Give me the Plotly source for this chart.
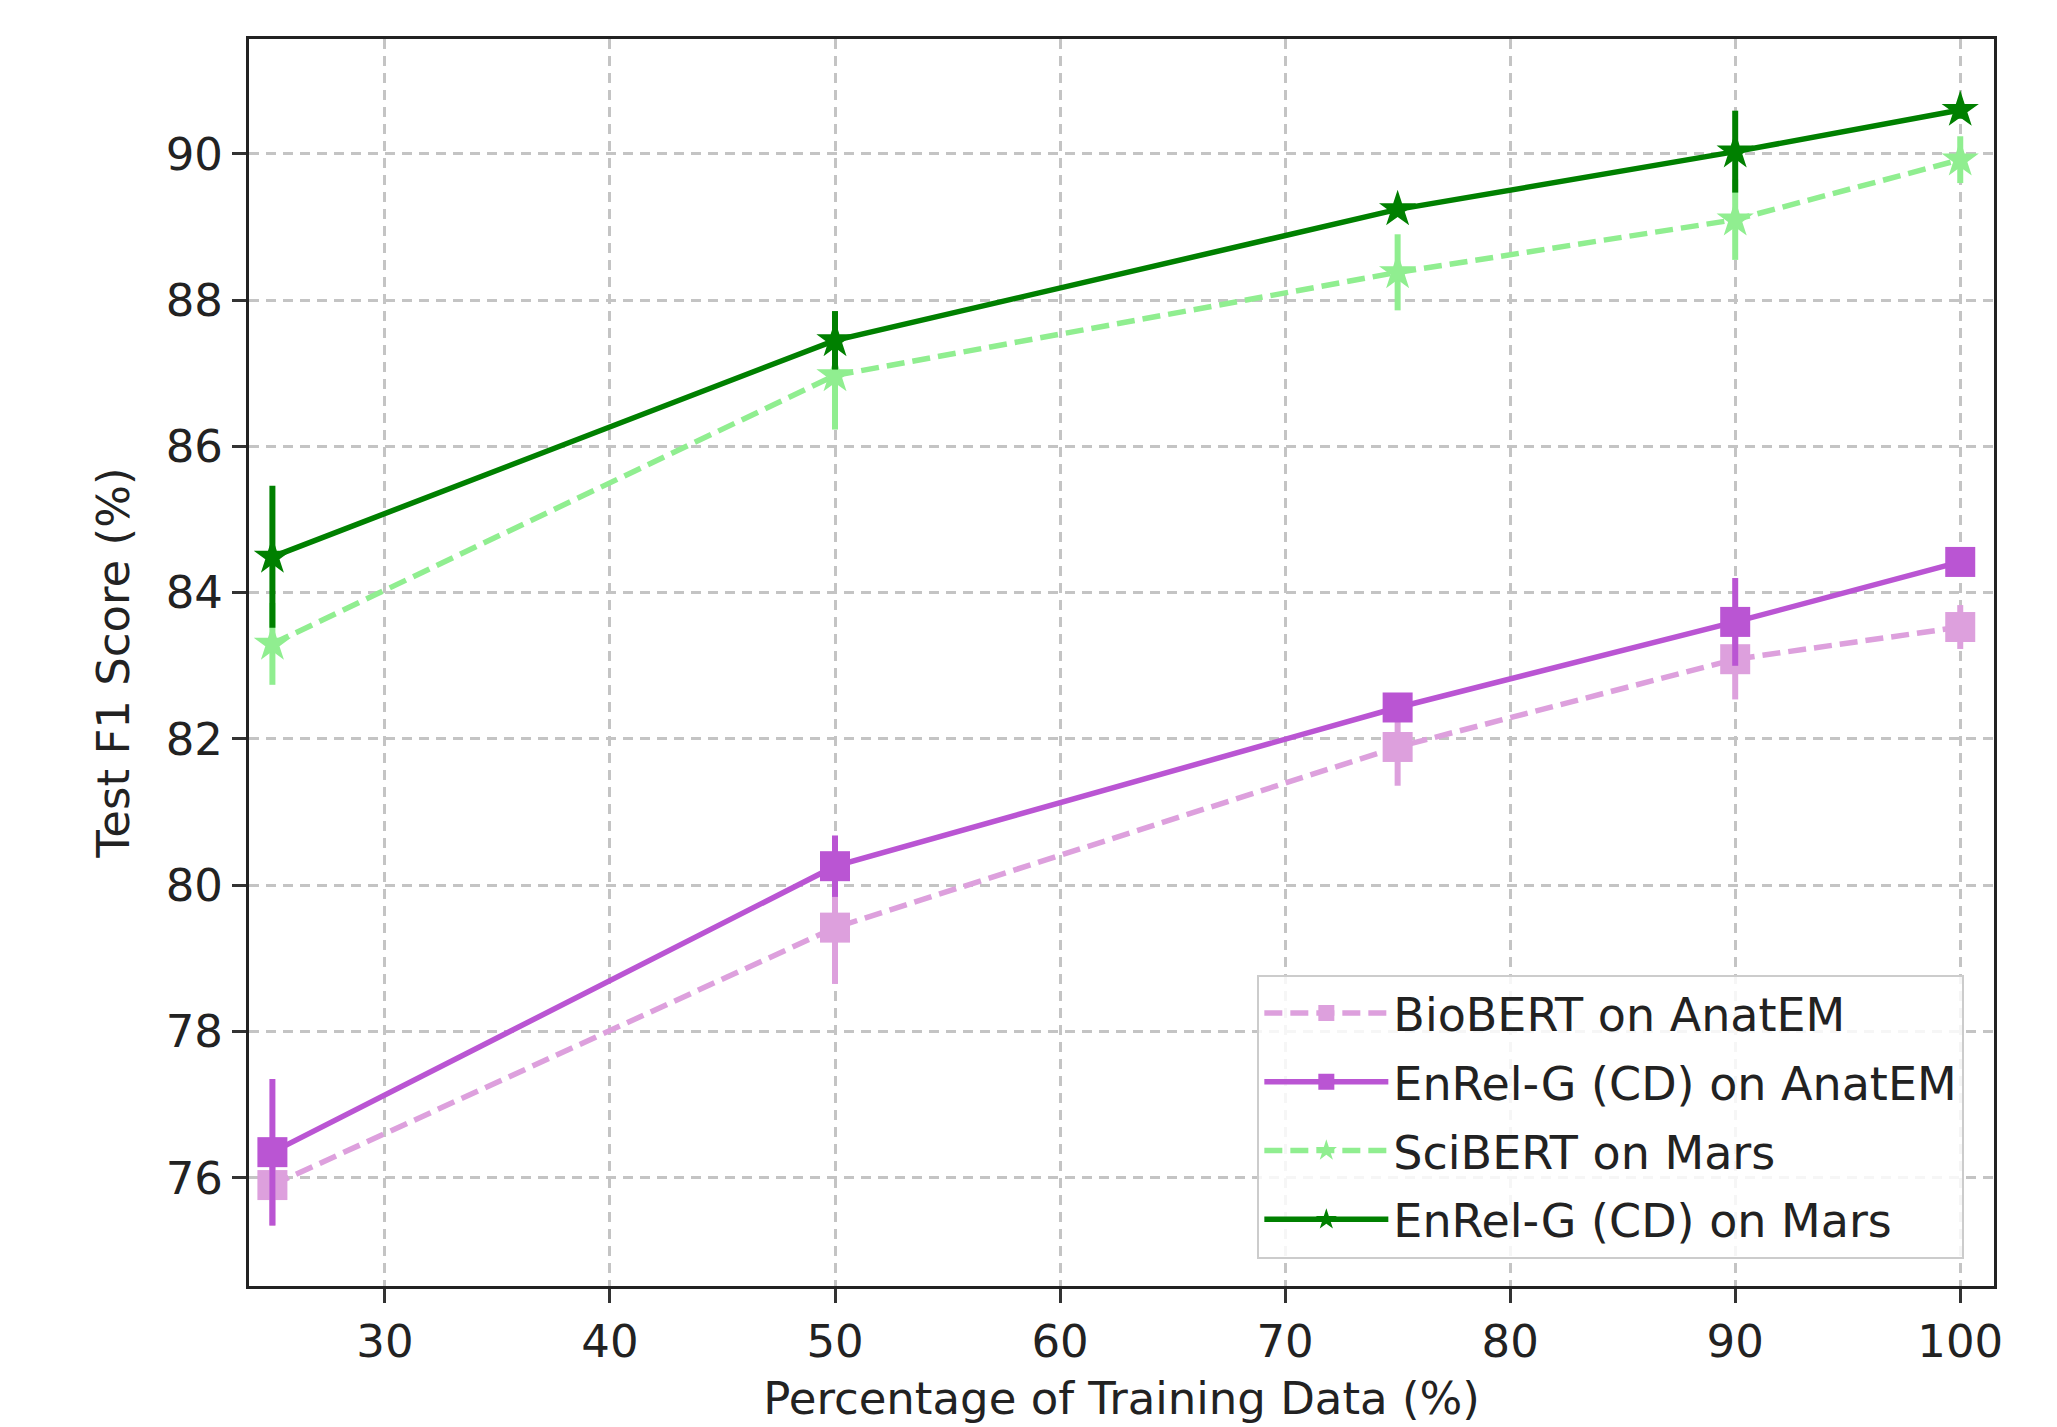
import plotly.graph_objects as go

# ---- data ----
x_pct = [25, 50, 75, 90, 100]

biobert_anatem = [75.90, 79.42, 81.89, 83.09, 83.53]
biobert_anatem_err = [0.56, 0.77, 0.53, 0.55, 0.30]

enrel_anatem = [76.35, 80.26, 82.43, 83.60, 84.42]
enrel_anatem_err = [1.00, 0.42, 0.15, 0.60, 0.15]

scibert_mars = [83.30, 86.97, 88.38, 89.10, 89.92]
scibert_mars_err = [0.56, 0.74, 0.52, 0.55, 0.32]

enrel_mars = [84.49, 87.45, 89.24, 90.03, 90.60]
enrel_mars_err = [0.97, 0.40, 0.10, 0.56, 0.12]

x_ticks = [30, 40, 50, 60, 70, 80, 90, 100]
y_ticks = [76, 78, 80, 82, 84, 86, 88, 90]

series = [
    ("BioBERT on AnatEM", biobert_anatem, biobert_anatem_err, "#DDA0DD", "18px,8px", "square", 30),
    ("EnRel-G (CD) on AnatEM", enrel_anatem, enrel_anatem_err, "#BA55D3", "solid", "square", 30),
    ("SciBERT on Mars", scibert_mars, scibert_mars_err, "#90EE90", "18px,8px", "star", 28),
    ("EnRel-G (CD) on Mars", enrel_mars, enrel_mars_err, "#008000", "solid", "star", 28),
]

FONT = "DejaVu Sans"
fig = go.Figure()
for i, (name, ys, errs, color, dash, sym, msize) in enumerate(series):
    fig.add_trace(go.Scatter(
        x=x_pct, y=ys, name=name, mode="lines+markers",
        legendgroup=f"g{i}",
        line=dict(color=color, width=5.5, dash=dash),
        marker=dict(symbol=sym, size=msize, color=color, line=dict(width=0)),
        error_y=dict(type="data", array=errs, visible=True, color=color,
                     thickness=6, width=0),
    ))

axis_common = dict(
    showline=True, linecolor="#222222", linewidth=3, mirror=True,
    ticks="outside", ticklen=14, tickwidth=3, tickcolor="#333333",
    showgrid=True, gridcolor="#c4c4c4", gridwidth=3, griddash="10px,7px",
    zeroline=False,
    tickfont=dict(family=FONT, size=45, color="#222222"),
)

fig.update_xaxes(range=[23.96, 101.5], tickvals=x_ticks,
                 title=dict(text="Percentage of Training Data (%)",
                            font=dict(family=FONT, size=45, color="#222222"),
                            standoff=16),
                 **axis_common)
fig.update_yaxes(range=[74.52, 91.57], tickvals=y_ticks,
                 title=dict(text="Test F1 Score (%)",
                            font=dict(family=FONT, size=45, color="#222222"),
                            standoff=22),
                 **axis_common)

fig.update_layout(
    width=2057, height=1427,
    margin=dict(l=241, r=71, t=31, b=149),
    plot_bgcolor="white", paper_bgcolor="white",
    font=dict(family=FONT, size=45, color="#222222"),
    showlegend=True,
    legend=dict(
        x=0.983, y=0.022, xanchor="right", yanchor="bottom",
        bgcolor="rgba(255,255,255,0.85)", bordercolor="#cccccc", borderwidth=2,
        font=dict(family=FONT, size=46, color="#222222"),
        traceorder="grouped", tracegroupgap=6, itemwidth=124,
    ),
)

fig.write_html("out.html")
